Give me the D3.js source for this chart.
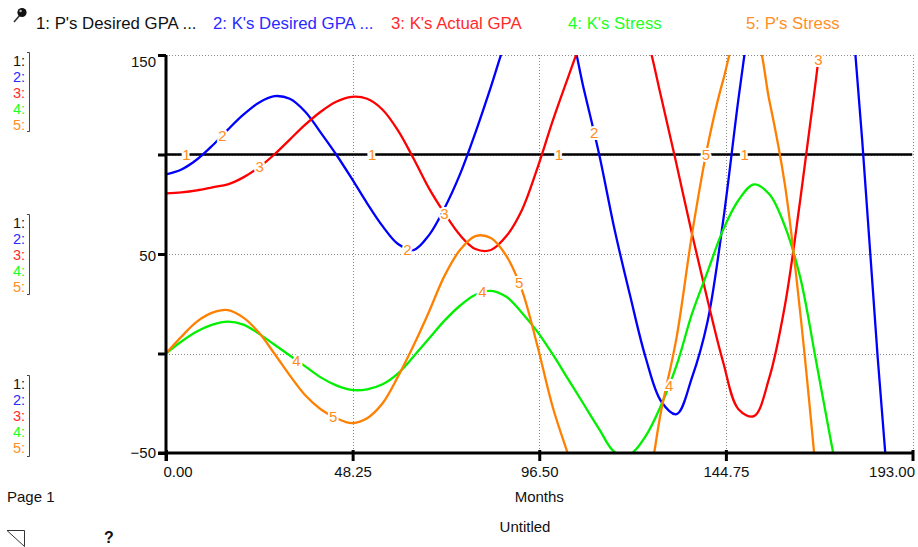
<!DOCTYPE html>
<html>
<head>
<meta charset="utf-8">
<script src="https://cdn.jsdelivr.net/npm/d3@7"></script>
<style>
  html, body { margin: 0; padding: 0; background: #fff; }
  svg { display: block; font-family: "Liberation Sans", Arial, sans-serif; }
</style>
</head>
<body>
<svg id="chart" width="918" height="547"></svg>
<script>
// ---- data -------------------------------------------------------------
const seriesNames = ["P's Desired GPA ...", "K's Desired GPA ...", "K's Actual GPA", "K's Stress", "P's Stress"];
const seriesColors = ["#000000", "#0000ff", "#ff0000", "#00f000", "#ff8000"];
const legendColors = ["#111111", "#2a2aff", "#ff2a2a", "#22ff22", "#ff8f26"];

// P's desired GPA is a flat target
const pDesiredMonths = [0, 193];
const pDesiredGpa = [100, 100];

// sampled model output, every 4 months
const months = [0, 4, 8, 12, 16, 20, 24, 28, 32, 36, 40, 44, 48, 52, 56, 60, 64, 68, 72, 76,
  80, 84, 88, 92, 96, 100, 104, 108, 112, 116, 120, 124, 128, 132, 136, 140, 144, 148, 152,
  156, 160, 164, 168, 172, 176, 180, 184, 188, 192, 193];

const kDesiredGpa = [90, 92.5, 97.5, 104.5, 112.5, 120, 126, 129.3, 128, 121.5, 111, 100, 88,
  75.5, 64, 55, 52, 59.5, 73, 90, 111, 134, 158, 176, 184, 180, 166, 133, 100, 62, 29, -2,
  -24, -30.5, -12, 16, 66, 128, 185, 240, 290, 320, 320, 290, 205, 107, -2, -100, -190, -212];

const kActualGpa = [80.5, 81, 82, 83.5, 85, 88.5, 93.5, 100, 107.5, 115, 121.5, 126.5, 129,
  128, 122.5, 112, 98, 83, 70.5, 59.5, 52.5, 52, 59, 72, 93, 117, 139, 160, 176, 183, 179,
  161, 129, 95, 60, 27, -4, -28, -31.5, -12, 24, 77.5, 137, 201, 268, 330, 390, 450, 510, 525];

const kStress = [0, 6, 11, 14.5, 16, 14.5, 10, 4.5, -1, -6.5, -12, -16, -18.3, -18, -15.5,
  -10, -1.5, 7.5, 16.5, 24, 29.5, 31.5, 28.5, 20.5, 11, -0.5, -13, -25.5, -38, -49.5, -50.5,
  -41.5, -26, -6, 20, 41, 62, 77, 85, 80, 64, 38, -3, -45, -85, -125, -165, -205, -245, -255];

const pStress = [0, 8.5, 16, 20.5, 21.8, 18, 10.5, 0, -11, -21, -28, -32.5, -35, -32.5, -25,
  -11.5, 4, 21, 39, 52, 59, 58, 49, 32, 4, -27, -51, -74, -88, -92, -85, -70, -29, 8, 60,
  104, 137, 160, 160, 127, 85, 20, -59, -145, -235, -320, -400, -480, -560, -580];

// months at which each curve carries its number tag
const labelMonths = [
  [5.3, 53.3, 101.6, 149.6],
  [14.6, 62.4, 110.7],
  [24.2, 72.0, 168.7],
  [33.7, 81.8, 130.1],
  [43.2, 91.3, 139.6]
];

const xTicks = [0, 48.25, 96.5, 144.75, 193];
const yTicks = [150, 100, 50, 0, -50];
const yTickLabels = [150, 50, -50];
const xTitle = "Months";
const pageTitle = "Untitled";
const pageLabel = "Page 1";

// ---- layout -----------------------------------------------------------
const svg = d3.select("#chart");
const plot = { left: 166, right: 912.5, top: 55, bottom: 453 };

const x = d3.scaleLinear().domain([0, 193]).range([plot.left, plot.right]);
const y = d3.scaleLinear().domain([-50, 150]).range([plot.bottom, plot.top]);

svg.append("rect").attr("width", 918).attr("height", 547).attr("fill", "#fff");

// ---- grid -------------------------------------------------------------
const grid = svg.append("g").attr("stroke", "#8a8a8a").attr("stroke-width", 1)
  .attr("stroke-dasharray", "1,2").attr("fill", "none");
xTicks.slice(1).forEach(v => {
  const px = Math.round(x(v)) + 0.5;
  grid.append("line").attr("x1", px).attr("x2", px).attr("y1", plot.top).attr("y2", plot.bottom);
});
yTicks.slice(0, 4).forEach(v => {
  const py = Math.round(y(v)) + 0.5;
  grid.append("line").attr("x1", plot.left).attr("x2", plot.right).attr("y1", py).attr("y2", py);
});

// ---- series -----------------------------------------------------------
svg.append("defs").append("clipPath").attr("id", "plotClip")
  .append("rect")
  .attr("x", plot.left).attr("y", plot.top)
  .attr("width", plot.right - plot.left).attr("height", plot.bottom - plot.top);

const series = [
  { t: pDesiredMonths, v: pDesiredGpa },
  { t: months, v: kDesiredGpa },
  { t: months, v: kActualGpa },
  { t: months, v: kStress },
  { t: months, v: pStress }
];

const line = d3.line()
  .x(d => x(d[0]))
  .y(d => y(d[1]))
  .curve(d3.curveCatmullRom.alpha(0.5));

const linesG = svg.append("g").attr("clip-path", "url(#plotClip)");
const paths = series.map((s, i) =>
  linesG.append("path")
    .datum(s.t.map((t, k) => [t, s.v[k]]))
    .attr("d", line)
    .attr("fill", "none")
    .attr("stroke", seriesColors[i])
    .attr("stroke-width", 2.3)
    .attr("stroke-linejoin", "round")
    .node()
);

// ---- axes -------------------------------------------------------------
const xAxis = d3.axisBottom(x)
  .tickValues(xTicks)
  .tickFormat(d3.format(".2f"))
  .tickSizeInner(8).tickSizeOuter(0).tickPadding(5);
const xg = svg.append("g").attr("transform", `translate(0,${plot.bottom})`).call(xAxis);
xg.select(".domain").attr("stroke", "#000").attr("stroke-width", 3)
  .attr("d", `M${plot.left - 8},0H${plot.right}`);
xg.selectAll(".tick line").attr("stroke", "#000").attr("stroke-width", 3).attr("y1", -3);
xg.selectAll(".tick text")
  .attr("fill", "#111").attr("font-size", 15)
  .attr("font-family", "'Liberation Sans', Arial, sans-serif")
  .attr("text-anchor", (d, i) => i === 0 ? "start" : (i === xTicks.length - 1 ? "end" : "middle"))
  .attr("dx", (d, i) => i === 0 ? -3 : (i === xTicks.length - 1 ? 2 : 0));

const yAxis = d3.axisLeft(y)
  .tickValues(yTicks)
  .tickFormat(d => yTickLabels.includes(d) ? d3.format("d")(d) : "")
  .tickSizeInner(8).tickSizeOuter(0).tickPadding(2);
const yg = svg.append("g").attr("transform", `translate(${plot.left},0)`).call(yAxis);
yg.select(".domain").attr("stroke", "#000").attr("stroke-width", 3)
  .attr("d", `M0,${plot.top}V${plot.bottom + 8}`);
yg.selectAll(".tick line").attr("stroke", "#000").attr("stroke-width", 3);
yg.selectAll(".tick text")
  .attr("fill", "#111").attr("font-size", 15)
  .attr("font-family", "'Liberation Sans', Arial, sans-serif")
  .attr("dy", d => d === 150 ? "0.78em" : (d === 50 ? "0.45em" : "0.3em"));

// ---- curve number tags ------------------------------------------------
function pointAtX(node, px) {
  let lo = 0, hi = node.getTotalLength();
  for (let i = 0; i < 40; i++) {
    const mid = (lo + hi) / 2;
    if (node.getPointAtLength(mid).x < px) lo = mid; else hi = mid;
  }
  return node.getPointAtLength((lo + hi) / 2);
}
const tagG = svg.append("g").attr("clip-path", "url(#plotClip)");
labelMonths.forEach((ts, i) => {
  ts.forEach(t => {
    const p = pointAtX(paths[i], x(t));
    if (p.y < plot.top || p.y > plot.bottom) return;
    tagG.append("text")
      .attr("x", p.x).attr("y", p.y)
      .attr("dy", "0.36em")
      .attr("text-anchor", "middle")
      .attr("font-size", 15)
      .attr("fill", "#ff8c1a")
      .attr("stroke", "#fff").attr("stroke-width", 4)
      .attr("paint-order", "stroke")
      .text(i + 1);
  });
});

// ---- legend -----------------------------------------------------------
const legendX = [36, 213, 391, 568, 746];
const legend = svg.append("g").attr("font-size", 16.8);
seriesNames.forEach((name, i) => {
  legend.append("text").attr("x", legendX[i]).attr("y", 29)
    .attr("fill", legendColors[i]).text(`${i + 1}: ${name}`);
});

// pin icon
const pin = svg.append("g");
pin.append("line").attr("x1", 20).attr("y1", 15).attr("x2", 14).attr("y2", 22)
  .attr("stroke", "#333").attr("stroke-width", 1.6);
pin.append("circle").attr("cx", 22).attr("cy", 12.5).attr("r", 4.6).attr("fill", "#111");
pin.append("circle").attr("cx", 20.6).attr("cy", 11).attr("r", 1.2).attr("fill", "#bbb");

// scale keys at the left margin
const keyGroups = [
  { baselines: [66, 82, 98, 114, 130], top: 52, bottom: 132 },
  { baselines: [228, 244, 260, 276, 292], top: 214, bottom: 295 },
  { baselines: [389, 405, 421, 437, 453], top: 375, bottom: 457 }
];
keyGroups.forEach(g => {
  const kg = svg.append("g").attr("font-size", 14.5);
  g.baselines.forEach((b, i) => {
    kg.append("text").attr("x", 13).attr("y", b).attr("fill", legendColors[i]).text(`${i + 1}:`);
  });
  kg.append("path")
    .attr("d", `M27,${g.top + 0.5}H29.5V${g.bottom - 0.5}H27`)
    .attr("fill", "none").attr("stroke", "#444").attr("stroke-width", 1);
});

// ---- titles and page furniture ---------------------------------------
svg.append("text").attr("x", (plot.left + plot.right) / 2).attr("y", 502)
  .attr("text-anchor", "middle").attr("font-size", 15).attr("fill", "#111").text(xTitle);
svg.append("text").attr("x", 525).attr("y", 532)
  .attr("text-anchor", "middle").attr("font-size", 15).attr("fill", "#111").text(pageTitle);
svg.append("text").attr("x", 7).attr("y", 502)
  .attr("font-size", 15).attr("fill", "#111").text(pageLabel);
svg.append("path").attr("d", "M7,530.5H24.5V546.5Z")
  .attr("fill", "none").attr("stroke", "#333").attr("stroke-width", 1);
svg.append("text").attr("x", 104).attr("y", 543)
  .attr("font-size", 16).attr("font-weight", "bold").attr("fill", "#111").text("?");
</script>
</body>
</html>
